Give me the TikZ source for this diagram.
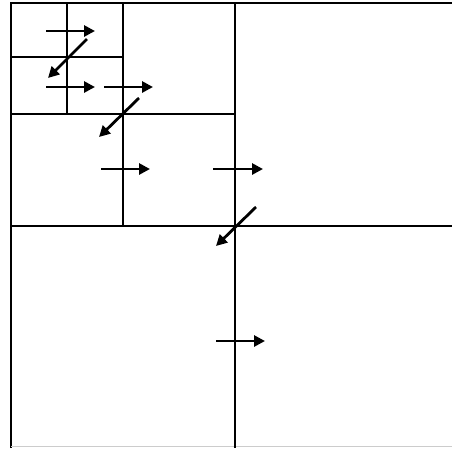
\documentclass[tikz,border=0pt]{standalone}
\usetikzlibrary{arrows.meta}
\begin{document}
\begin{tikzpicture}[x=1pt,y=-1pt,
  grid/.style={line width=1.9pt,black},
  mv/.style={line width=2.8pt,-{Triangle[length=11pt,width=11pt]}}]
\useasboundingbox (0,0) rectangle (452,448);
% outer edges
\draw[grid] (11,448) -- (11,3) -- (452,3);
\draw[line width=1pt,black!20] (11,446) -- (452,446);
% main split
\draw[grid] (235,3) -- (235,448);
\draw[grid] (11,226) -- (452,226);
% second level
\draw[grid] (123,3) -- (123,226);
\draw[grid] (11,114) -- (235,114);
% third level
\draw[grid] (67,3) -- (67,114);
\draw[grid] (11,57) -- (123,57);
% arrows
\coordinate (a1s) at (46,31);  \coordinate (a1e) at (95,31);
\coordinate (d1s) at (87,39);  \coordinate (d1e) at (48,78);
\coordinate (a2s) at (46,87);  \coordinate (a2e) at (95,87);
\coordinate (a3s) at (104,87); \coordinate (a3e) at (153,87);
\coordinate (d2s) at (139,98); \coordinate (d2e) at (99,137);
\coordinate (a4s) at (101,169); \coordinate (a4e) at (150,169);
\coordinate (a5s) at (213,169); \coordinate (a5e) at (263,169);
\coordinate (d3s) at (256,207); \coordinate (d3e) at (216,246);
\coordinate (a6s) at (216,341); \coordinate (a6e) at (265,341);
\foreach \p in {a1,d1,a2,a3,d2,a4,a5,d3,a6}
  \draw[mv] (\p s) -- (\p e);
\end{tikzpicture}
\end{document}
